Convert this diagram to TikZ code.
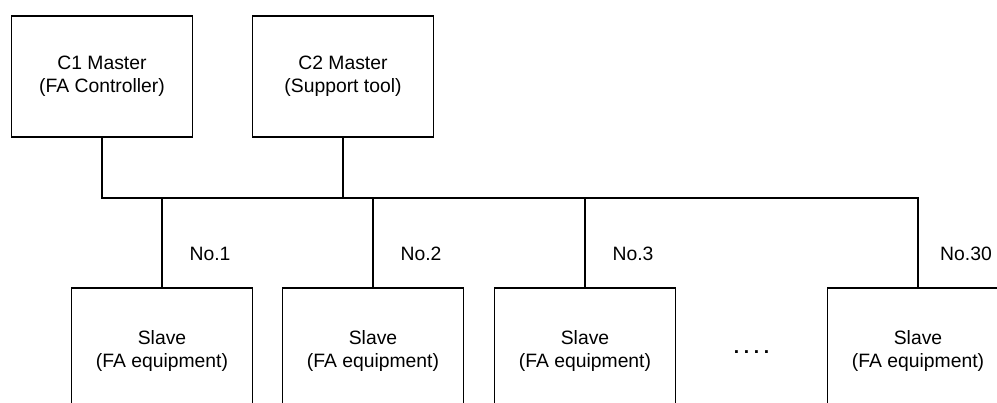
\documentclass[tikz,border=0pt]{standalone}
\usepackage{fontspec}
\setmainfont{Liberation Sans}
\usepackage{tikz}
\usetikzlibrary{positioning, calc}

\begin{document}
\begin{tikzpicture}[x=0.75pt, y=-0.75pt, line width=0.8pt,
    every node/.style={font=\fontsize{14.5}{17.25}\selectfont, align=center},
    masterbox/.style={draw, inner sep=0pt, minimum width=136pt, minimum height=90.75pt},
    slavebox/.style={draw, inner sep=0pt, minimum width=136pt, minimum height=94.5pt},
    nolabel/.style={inner sep=0pt}]
    \useasboundingbox (0,0) rectangle (997,403);
    \clip (0,0) rectangle (997,403);

    % masters
    \node[masterbox] (c1) at (102, 76.5) {C1 Master\\(FA Controller)};
    \node[masterbox] (c2) at (343, 76.5) {C2 Master\\(Support tool)};

    % slaves (open at the bottom edge)
    \node[slavebox] (s1) at (162, 351) {Slave\\(FA equipment)};
    \node[slavebox] (s2) at (373, 351) {Slave\\(FA equipment)};
    \node[slavebox] (s3) at (585, 351) {Slave\\(FA equipment)};
    \node[slavebox] (s30) at (918, 351) {Slave\\(FA equipment)};
    \node[anchor=base] (dots) at (751.5, 353) {\textbf{.\hspace{3.5pt}.\hspace{3.5pt}.\hspace{3.5pt}.}};

    % bus
    \coordinate (bus) at (0, 198);
    \draw (c1.south) -- (c1.south |- bus) -| (s30.north);
    \draw (c2.south) -- (c2.south |- bus);
    \foreach \s/\n in {s1/1, s2/2, s3/3} {
        \draw (\s.north |- bus) -- (\s.north);
    }
    \foreach \s/\n in {s1/1, s2/2, s3/3, s30/30} {
        \node[nolabel] (no\n) at ($(\s.north |- 0,254) + (48,0)$) {No.\n};
    }
\end{tikzpicture}
\end{document}
